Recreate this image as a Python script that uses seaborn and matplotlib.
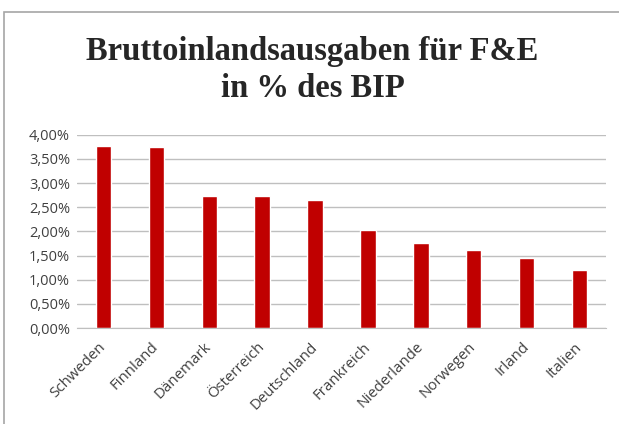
import matplotlib
matplotlib.use("Agg")
import matplotlib.pyplot as plt
import seaborn as sns
import pandas as pd
from matplotlib.patches import Rectangle
from matplotlib.ticker import FuncFormatter, MultipleLocator

laender = ["Schweden", "Finnland", "Dänemark", "Österreich", "Deutschland",
           "Frankreich", "Niederlande", "Norwegen", "Irland", "Italien"]
anteil = [3.76, 3.74, 2.73, 2.73, 2.64, 2.02, 1.76, 1.62, 1.44, 1.19]

df = pd.DataFrame({"land": laender, "anteil": anteil})

sns.set_style("white")
plt.rcParams["font.family"] = ["Open Sans", "DejaVu Sans"]

fig = plt.figure(figsize=(6.19, 4.24), dpi=100)
ax = fig.add_axes([0.1244, 0.2264, 0.8546, 0.4559])

sns.barplot(data=df, x="land", y="anteil", color="#C00000", width=0.29,
            saturation=1, ax=ax)

ax.set_ylim(0, 4.0)
ax.yaxis.set_major_locator(MultipleLocator(0.5))
ax.yaxis.set_major_formatter(FuncFormatter(lambda v, p: f"{v:.2f}%".replace(".", ",")))
ax.grid(axis="y", color="#BFBFBF", linewidth=1)
ax.set_axisbelow(True)
for s in ["top", "right", "left"]:
    ax.spines[s].set_visible(False)
ax.spines["bottom"].set_color("#BFBFBF")
ax.set_xlabel("")
ax.set_ylabel("")
ax.tick_params(axis="y", labelsize=10.5, colors="#404040", length=0, pad=5)
ax.tick_params(axis="x", labelsize=10.8, colors="#404040", length=0, pad=12)
plt.setp(ax.get_xticklabels(), rotation=45, ha="right", va="center", rotation_mode="anchor")
ax.set_xlim(-0.5, len(laender) - 0.5)

fig.text(0.505, 0.835, "Bruttoinlandsausgaben für F&E\nin % des BIP", ha="center", va="center",
         fontsize=23.5, fontweight="bold", family=["Liberation Serif", "DejaVu Serif"],
         linespacing=1.25)

fig.patches.append(Rectangle((4 / 619, -0.1), 1.2, 1 - 12 / 424 + 0.1,
                             transform=fig.transFigure, fill=False,
                             edgecolor="#A6A6A6", linewidth=1.2))

fig.savefig("out.png", dpi=100)
